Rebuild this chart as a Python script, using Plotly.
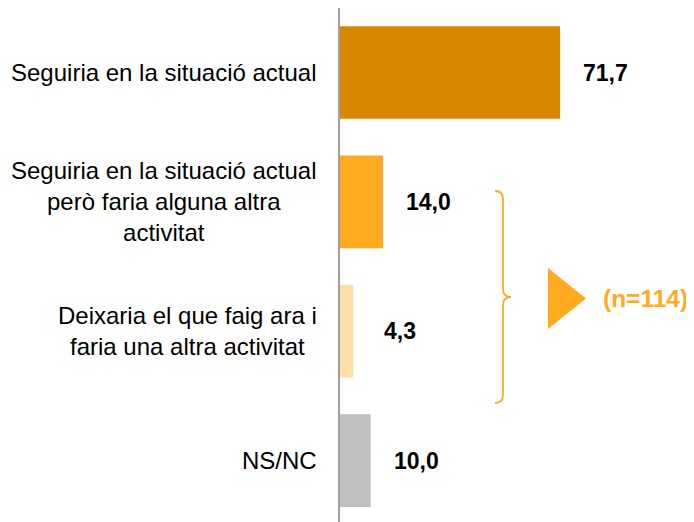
import plotly.graph_objects as go

# ---- data ----
categories = [
    "Seguiria en la situació actual",
    "Seguiria en la situació actual<br>però faria alguna altra<br>activitat",
    "Deixaria el que faig ara i<br>faria una altra activitat",
    "NS/NC",
]
values = [71.7, 14.0, 4.3, 10.0]
value_labels = ["71,7", "14,0", "4,3", "10,0"]
bar_colors = ["#D68800", "#FFAA1F", "#FFDFA6", "#BFBFBF"]
sample_label = "(n=114)"

OFF = 8  # page body margin
W, H = 694 - OFF, 522 - OFF
ML, MT = 340 - OFF, 8 - OFF
PW, PH = W - ML, H - MT
ORANGE = "#FFAA1F"
FONT = "Liberation Sans, Arial, sans-serif"

fig = go.Figure()
fig.add_trace(go.Bar(
    x=values, y=list(range(len(categories))), orientation="h",
    marker=dict(color=bar_colors, line=dict(width=0)),
    width=0.716, hoverinfo="skip",
))

annotations = []
for i, (cat, lab) in enumerate(zip(categories, value_labels)):
    annotations.append(dict(
        x=0, y=i, xref="x", yref="y", text=cat, showarrow=False,
        xanchor="right", yanchor="middle", align="center", xshift=-21,
        font=dict(family=FONT, size=24, color="#000000"),
    ))
    annotations.append(dict(
        x=values[i], y=i, xref="x", yref="y", text="<b>%s</b>" % lab,
        showarrow=False, xanchor="left", yanchor="middle",
        xshift=(29 if values[i] < 5 else 21),
        font=dict(family=FONT, size=23, color="#000000"),
    ))


def px(x):
    return (x - OFF - ML) / PW


def py(y):
    return 1 - (y - OFF - MT) / PH


brace = ("M {0},{1} Q {2},{1} {2},{3} L {2},{4} Q {2},{5} {6},{5} "
         "Q {2},{5} {2},{7} L {2},{8} Q {2},{9} {0},{9}").format(
    px(495), py(191), px(503), py(199), py(289), py(297), px(511),
    py(305), py(395), py(403))

tri = "M {0},{1} L {2},{3} L {0},{4} Z".format(px(548), py(268), px(586), py(298.5), py(329))

shapes = [
    dict(type="path", path=brace, xref="paper", yref="paper",
         line=dict(color=ORANGE, width=1.8)),
    dict(type="path", path=tri, xref="paper", yref="paper",
         fillcolor=ORANGE, line=dict(width=0)),
]

annotations.append(dict(
    x=px(601), y=py(298), xref="paper", yref="paper",
    text="<b>%s</b>" % sample_label, showarrow=False,
    xanchor="left", yanchor="middle",
    font=dict(family=FONT, size=24.5, color=ORANGE),
))

fig.update_layout(
    width=W, height=H,
    margin=dict(l=ML, r=0, t=MT, b=0, pad=0),
    paper_bgcolor="white", plot_bgcolor="white",
    showlegend=False,
    xaxis=dict(range=[0, PW / 3.07], visible=False, fixedrange=True),
    yaxis=dict(range=[3.474, -0.4985], showticklabels=False, ticks="",
               showgrid=False, zeroline=False, showline=True,
               linecolor="#A0A0A0", linewidth=2, fixedrange=True),
    annotations=annotations, shapes=shapes,
    bargap=0.28,
)

fig.write_html("out.html", config={"displayModeBar": False})
